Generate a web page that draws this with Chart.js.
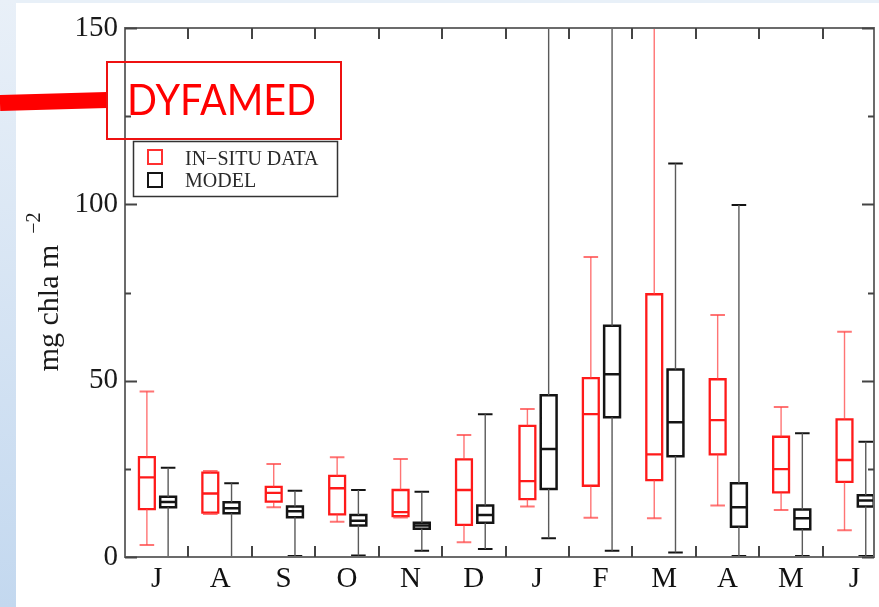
<!DOCTYPE html>
<html>
<head>
<meta charset="utf-8">
<script src="https://cdn.jsdelivr.net/npm/chart.js@4.4.1/dist/chart.umd.min.js"></script>
<style>
  html, body { margin: 0; padding: 0; background: #fff; }
  #wrap { position: relative; width: 879px; height: 607px; overflow: hidden; background: #fff; }
  #side { position: absolute; left: 0; top: 0; width: 16px; height: 607px; background: linear-gradient(#e9f0f8, #c3d8ef); }
  #band { position: absolute; left: 16px; top: 0; width: 863px; height: 3px; background: #e8f0f8; }
  canvas { position: absolute; left: 0; top: 0; }
</style>
</head>
<body>
<div id="wrap">
  <div id="side"></div>
  <div id="band"></div>
  <canvas id="c" width="879" height="607"></canvas>
</div>
<script>
// Monthly chlorophyll statistics, June to June
const months = ['J', 'A', 'S', 'O', 'N', 'D', 'J', 'F', 'M', 'A', 'M', 'J'];

// In-situ observations (mg chla m^-2)
const insituMin    = [3.4, 12.2, 14.1, 10.0, 11.2, 4.2, 14.3, 11.1, 11.0, 14.6, 13.3, 7.6];
const insituQ1     = [13.6, 12.6, 15.7, 12.1, 11.6, 9.1, 16.4, 20.2, 21.8, 29.1, 18.3, 21.3];
const insituMedian = [22.6, 18.0, 18.2, 19.5, 12.7, 19.0, 21.5, 40.5, 29.1, 38.8, 24.9, 27.5];
const insituQ3     = [28.3, 23.9, 19.9, 23.0, 19.0, 27.7, 37.2, 50.7, 74.5, 50.4, 34.1, 39.0];
const insituMax    = [46.9, 24.4, 26.4, 28.3, 27.8, 34.6, 42.0, 85.1, 156.0, 68.6, 42.5, 63.9];

// Model output (mg chla m^-2)
const modelMin    = [0.0, 0.0, 0.3, 0.4, 1.8, 2.3, 5.3, 1.8, 1.3, 0.3, 0.3, 0.3];
const modelQ1     = [14.1, 12.4, 11.3, 8.9, 8.0, 9.7, 19.3, 39.6, 28.6, 8.6, 7.9, 14.3];
const modelMedian = [15.6, 13.8, 13.0, 10.3, 8.9, 11.9, 30.6, 51.8, 38.2, 14.1, 11.0, 16.0];
const modelQ3     = [17.1, 15.5, 14.3, 11.9, 9.7, 14.6, 45.9, 65.6, 53.2, 20.9, 13.5, 17.5];
const modelMax    = [25.3, 20.9, 18.8, 19.0, 18.5, 40.5, 158.0, 158.0, 111.6, 99.8, 35.1, 32.7];

const yTicks = [0, 50, 100, 150];

// geometry in x-axis units (one unit per month)
const OFF_INSITU = -0.155, OFF_MODEL = 0.18, HALF_BOX = 0.125, HALF_CAP = 0.115;

const gap = () => ({ x: null, y: null });

function boxPoints(q1, med, q3, off) {
  const pts = [];
  q1.forEach((_, i) => {
    const x = i + 1 + off;
    pts.push({ x: x - HALF_BOX, y: q1[i] }, { x: x + HALF_BOX, y: q1[i] },
             { x: x + HALF_BOX, y: q3[i] }, { x: x - HALF_BOX, y: q3[i] },
             { x: x - HALF_BOX, y: q1[i] }, gap(),
             { x: x - HALF_BOX, y: med[i] }, { x: x + HALF_BOX, y: med[i] }, gap());
  });
  return pts;
}
function stemPoints(lo, q1, q3, hi, off) {
  const pts = [];
  lo.forEach((_, i) => {
    const x = i + 1 + off;
    pts.push({ x, y: q3[i] }, { x, y: hi[i] }, gap(), { x, y: q1[i] }, { x, y: lo[i] }, gap());
  });
  return pts;
}
function capPoints(lo, hi, off) {
  const pts = [];
  lo.forEach((_, i) => {
    const x = i + 1 + off;
    pts.push({ x: x - HALF_CAP, y: hi[i] }, { x: x + HALF_CAP, y: hi[i] }, gap(),
             { x: x - HALF_CAP, y: lo[i] }, { x: x + HALF_CAP, y: lo[i] }, gap());
  });
  return pts;
}

const lineSet = (data, color, width, cap) => ({
  data, showLine: true, spanGaps: false, borderColor: color, borderWidth: width,
  borderCapStyle: cap, borderJoinStyle: 'miter', pointRadius: 0, pointHoverRadius: 0,
  tension: 0, fill: false, clip: 0
});

const RED = '#ff1a1a', RED_SOFT = 'rgba(255,70,70,0.75)';
const BLACK = '#141414', GREY = '#5a5a5a';

const datasets = [
  lineSet(stemPoints(insituMin, insituQ1, insituQ3, insituMax, OFF_INSITU), RED_SOFT, 1.4, 'butt'),
  lineSet(capPoints(insituMin, insituMax, OFF_INSITU), RED_SOFT, 2, 'butt'),
  lineSet(boxPoints(insituQ1, insituMedian, insituQ3, OFF_INSITU), RED, 2.3, 'square'),
  lineSet(stemPoints(modelMin, modelQ1, modelQ3, modelMax, OFF_MODEL), GREY, 1.4, 'butt'),
  lineSet(capPoints(modelMin, modelMax, OFF_MODEL), BLACK, 2, 'butt'),
  lineSet(boxPoints(modelQ1, modelMedian, modelQ3, OFF_MODEL), BLACK, 2.5, 'square')
];

// frame with inward ticks on all four sides
const framePlugin = {
  id: 'frame',
  afterDatasetsDraw(chart) {
    const { ctx, chartArea: { left, right, top, bottom }, scales: { x, y } } = chart;
    ctx.save();
    ctx.strokeStyle = '#6b6b6b';
    ctx.lineWidth = 2;
    ctx.strokeRect(left, top, right - left, bottom - top);
    ctx.strokeStyle = '#444';
    ctx.beginPath();
    for (let v = 0; v <= 150; v += 25) {
      const py = Math.round(y.getPixelForValue(v)) + 0.5;
      const len = (v % 50 === 0) ? 12 : 6;
      ctx.moveTo(left, py); ctx.lineTo(left + len, py);
      ctx.moveTo(right, py); ctx.lineTo(right - len, py);
    }
    for (let i = 1; i < months.length; i++) {
      const px = Math.round(x.getPixelForValue(i + 0.5));
      ctx.moveTo(px, bottom); ctx.lineTo(px, bottom - 11);
      ctx.moveTo(px, top); ctx.lineTo(px, top + 11);
    }
    ctx.stroke();
    ctx.restore();
  },
  afterDraw(chart) {
    const { ctx } = chart;
    ctx.save();
    // axis title with superscript
    ctx.translate(58, 308);
    ctx.rotate(-Math.PI / 2);
    ctx.fillStyle = '#1a1a1a';
    ctx.font = '30px "Liberation Serif"';
    ctx.textAlign = 'center';
    ctx.textBaseline = 'alphabetic';
    const main = 'mg chla m';
    const w = ctx.measureText(main).width;
    ctx.fillText(main, 0, 0);
    ctx.font = '20px "Liberation Serif"';
    ctx.textAlign = 'left';
    ctx.fillText('\u22122', w / 2 + 11, -18);
    ctx.restore();

    // legend
    ctx.save();
    ctx.strokeStyle = '#333';
    ctx.lineWidth = 1.5;
    ctx.strokeRect(133.5, 141.5, 204, 55);
    ctx.lineWidth = 2;
    ctx.strokeStyle = '#ff3030';
    ctx.strokeRect(148, 150, 14, 14);
    ctx.strokeStyle = '#141414';
    ctx.strokeRect(148, 173, 14, 14);
    ctx.fillStyle = '#2a2a2a';
    ctx.font = '20px "Liberation Serif"';
    ctx.textBaseline = 'alphabetic';
    ctx.fillText('IN\u2212SITU DATA', 185, 165);
    ctx.fillText('MODEL', 185, 187);
    ctx.restore();

    // station callout
    ctx.save();
    ctx.strokeStyle = '#ff0000';
    ctx.lineWidth = 16;
    ctx.lineCap = 'butt';
    ctx.beginPath();
    ctx.moveTo(0, 103);
    ctx.lineTo(107, 100);
    ctx.stroke();
    ctx.lineWidth = 2;
    ctx.strokeStyle = '#ee1111';
    ctx.strokeRect(107, 62, 234, 77);
    ctx.fillStyle = '#ff0000';
    ctx.font = '42px Lato';
    ctx.textBaseline = 'alphabetic';
    ctx.fillText('DYFAMED', 127, 115, 189);
    ctx.restore();
  }
};

new Chart(document.getElementById('c'), {
  type: 'scatter',
  data: { datasets },
  options: {
    responsive: false,
    animation: false,
    events: [],
    layout: { padding: { top: 28, right: 5, left: 0, bottom: 0 } },
    plugins: { legend: { display: false }, tooltip: { enabled: false } },
    scales: {
      x: {
        type: 'linear', min: 0.5, max: 12.31,
        afterBuildTicks: (s) => { s.ticks = months.map((_, i) => ({ value: i + 1 })); },
        afterFit: (s) => { s.height = 50; },
        grid: { display: false, drawTicks: false }, border: { display: false },
        ticks: {
          autoSkip: false, maxRotation: 0, padding: 5, color: '#111',
          font: { family: 'Liberation Serif', size: 29 },
          callback: (v) => months[v - 1]
        }
      },
      y: {
        type: 'linear', min: 0, max: 150,
        afterBuildTicks: (s) => { s.ticks = yTicks.map(v => ({ value: v })); },
        afterFit: (s) => { s.width = 125; },
        grid: { display: false, drawTicks: false }, border: { display: false },
        ticks: { padding: 7, color: '#1a1a1a', font: { family: 'Liberation Serif', size: 29 } }
      }
    }
  },
  plugins: [framePlugin]
});
</script>
</body>
</html>
